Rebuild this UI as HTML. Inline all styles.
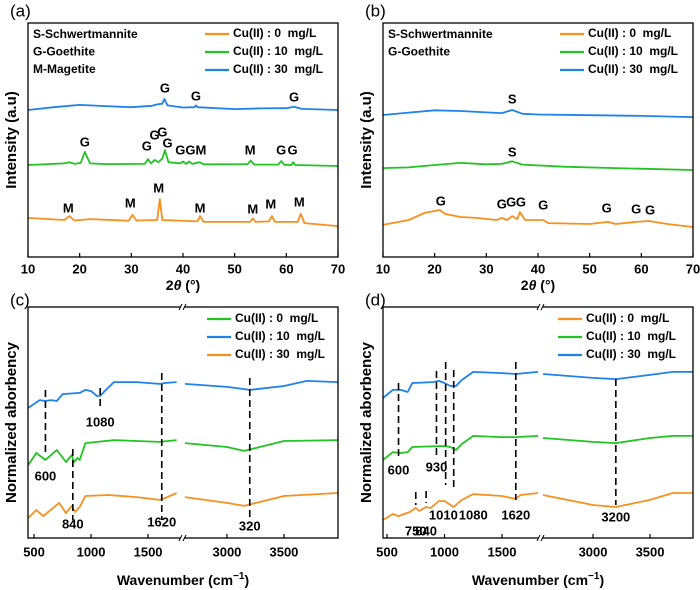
<!DOCTYPE html>
<html><head><meta charset="utf-8"><style>
body{margin:0;background:#fff}
svg{display:block;font-family:"Liberation Sans",Arial,sans-serif}
.pre{white-space:pre}
</style></head><body>
<svg id="c" width="700" height="590" viewBox="0 0 700 590" xmlns="http://www.w3.org/2000/svg"></svg>
<script>
// ---------- DATA ----------
const xrdTicks=[10,20,30,40,50,60,70];
const aOrange=[[10,16.7],[17,15.8],[18,17.5],[19,15.6],[22,16.2],[29.5,15.5],[30.2,18],[31,15.6],[35,15.8],[35.5,24.8],[36,15.8],[42.8,15.2],[43.3,17.5],[44,15],[53,15],[53.5,16.5],[54,15],[56.6,15.2],[57.2,17.5],[57.8,15],[62.2,15],[62.8,18.5],[63.5,14.5],[70,13.2]];
const aGreen=[[10,39.3],[17,40],[18,40.5],[19,39.8],[20.2,40.2],[21,44.9],[22,40],[25,39.7],[32.6,39.8],[33.2,41.8],[33.8,40],[34.5,41.5],[35.2,40.5],[36,42],[36.5,45.7],[37.2,40.5],[39.5,40],[40,40.8],[40.6,39.8],[41.2,40.8],[41.8,39.8],[43.2,40.5],[44,39.6],[52.5,39.7],[53.1,41.2],[53.8,39.5],[58.4,39.5],[59,41],[59.6,39.4],[61,39.3],[61.3,40.5],[61.7,39.3],[70,38.9]];
const aBlue=[[10,62.8],[15,64],[20,65],[25,64.5],[30,64],[34,64.6],[35,65.2],[36,65.5],[36.4,67.5],[37,64.8],[40,63.9],[42.2,64],[42.5,64.8],[42.8,64],[50,63.2],[55,63.5],[60,63.6],[61.5,64.2],[63,63.3],[70,62.8]];
const aLabels=[["G",36.5,71.8],["G",42.5,68.4],["G",61.5,68],["G",21,48.7],["G",33,47],["G",34.5,51.7],["G",36,53],["G",37,48.3],["GGM",41.5,45.3],["M",53,45.3],["G",59,45.3],["G",61.2,45.3],["M",17.8,20.5],["M",29.8,22.6],["M",35.3,29],["M",43.3,20.5],["M",53.5,20],["M",57,22.2],["M",62.5,23]];
const bOrange=[[10,13.7],[15,15.8],[18,18.8],[21,20.1],[22,18.4],[25,17.1],[28,16.7],[32,15.8],[33,16.7],[34,15.8],[35,17.5],[36,16.2],[36.5,19.2],[37.5,15.8],[41,15.8],[42,14.5],[50,14.1],[53.5,15],[55,14.1],[59,15],[61.5,15.4],[65,14.1],[70,12.8]];
const bGreen=[[10,38],[15,38.3],[20,39.3],[25,40.2],[30,39.6],[33,39.8],[35,40.9],[37,39.5],[45,38.6],[55,38],[70,37.2]];
const bBlue=[[10,60.7],[15,61.7],[20,62.7],[25,62.4],[30,61.8],[33,61.5],[35,62.8],[37,61.2],[40,60.9],[50,60.6],[60,60.3],[70,59.8]];
const bLabels=[["S",35,67.1],["S",35,44.4],["G",21.2,23.5],["G",33,22.2],["G",34.8,23.1],["G",36.7,23.1],["G",41,21.8],["G",53.3,20.5],["G",59,20.1],["G",61.7,19.7]];
const ftTicksL=[500,1000,1500];
const ftTicksR=[3000,3500];
const cBlue=[[450,56.3],[550,59.7],[600,59.3],[650,59.7],[700,59.3],[750,62.3],[900,62.8],[950,64.1],[1000,63.6],[1050,61.5],[1080,61.5],[1120,63.6],[1200,67.5],[1400,67.5],[1600,66.7],[1650,67.1],[1750,67.5],[2632,66.7],[3000,65.4],[3200,64.1],[3500,65.8],[3700,68],[3974,67.5]];
const cGreen=[[450,31.6],[520,36.8],[600,33.8],[700,38.1],[780,32.9],[830,35.9],[850,32.9],[880,34.6],[900,33.8],[950,41.1],[1200,42.4],[1600,41.6],[1750,42.4],[2632,41.1],[3000,39.4],[3150,37.7],[3500,42],[3974,42.4]];
const cOrange=[[450,8.7],[520,12.1],[580,9.5],[720,15.2],[780,10.8],[830,13.9],[860,11.3],[900,13.4],[950,18.2],[1150,18.6],[1400,17.7],[1600,16.5],[1650,17.3],[1750,19.5],[2632,17.7],[3000,15.2],[3150,13.9],[3500,18.2],[3974,19.5]];
const cDash=[[600,390,455],[840,449,520],[1080,388,410],[1620,373,520],[3200,378,520]];
const cLabels=[["1080",1080,423],["600",600,477],["840",840,525],["1620",1620,523],["320",3200,527]];
const dBlue=[[465,60.6],[550,64.1],[620,64.1],[680,63.2],[720,67.1],[900,67.5],[950,68],[1000,67.1],[1050,65.8],[1100,65.8],[1150,68.4],[1250,71.9],[1500,71.4],[1620,71],[1813,71.9],[2561,71],[3000,69.3],[3200,68.8],[3500,70.6],[3700,71.9],[3877,71.9]];
const dGreen=[[465,33.8],[550,37.2],[620,36.8],[680,37.2],[720,39.4],[950,39.8],[1000,39.8],[1050,39.4],[1100,38.1],[1150,40.7],[1250,44.2],[1500,43.7],[1620,43.7],[1813,44.2],[2561,43.3],[3000,41.6],[3200,41.1],[3500,43.3],[3700,44.2],[3877,44.2]];
const dOrange=[[465,7.8],[550,10.4],[600,9.5],[700,11.3],[750,13],[780,11.7],[840,13.4],[880,13],[950,16],[1000,16],[1080,13.4],[1150,16.5],[1250,19],[1500,18.2],[1620,16.9],[1660,18.6],[1813,19.5],[2561,18.6],[3000,14.3],[3200,13.4],[3500,16.5],[3700,19.5],[3877,19.5]];
const dDash=[[600,383,460],[930,371,455],[1010,362,485],[1080,370,490],[750,492,505],[840,491,503],[1620,362,500],[3200,379,505]];
const dLabels=[["600",600,471],["930",930,468],["750",750,532],["840",840,532],["1010",990,516],["1080",1250,516],["1620",1620,516],["3200",3200,518]];
const legVals=["0","10","30"];
// ---------- DRAW ----------
const svg=document.getElementById('c');const NS="http://www.w3.org/2000/svg";
const OR="#f7901e",GR="#22c322",BL="#1e82ea";
function mk(t,a,p){const e=document.createElementNS(NS,t);for(const k in a)e.setAttribute(k,a[k]);(p||svg).appendChild(e);return e;}
function txt(s,x,y,o,p){const e=mk('text',Object.assign({x:x,y:y,'font-size':13,'font-weight':'bold','text-anchor':'middle','dominant-baseline':'middle'},o||{}),p);e.textContent=s;return e;}
function panel(P,name){
  const g=mk('g',{});return g;}
function xrd(P,name,series,labels,leftTexts,legColors,letter){
  const g=panel(P,name);
  const X=v=>P.l+(v-10)/60*(P.r-P.l), Y=u=>P.b-u/100*(P.b-P.t);
  series.forEach((s,i)=>{const p=mk('path',{d:'M'+s[0].map(q=>X(q[0]).toFixed(1)+','+Y(q[1]).toFixed(1)).join('L'),fill:'none',stroke:s[1],'stroke-width':1.8,'stroke-linejoin':'round'},g);});
  labels.forEach(l=>{const t=txt(l[0],X(l[1]),Y(l[2]),{},g);});
  const fr=mk('rect',{x:P.l,y:P.t,width:P.r-P.l,height:P.b-P.t,fill:'none',stroke:'#000','stroke-width':1.3},g);
  xrdTicks.forEach(v=>{mk('line',{x1:X(v),x2:X(v),y1:P.b,y2:P.b-4,stroke:'#000','stroke-width':1.2},g);const t=txt(v,X(v),P.b+13,{'font-size':13},g);});
  leftTexts.forEach((s,i)=>{const t=txt(s,P.l+5,P.t+12+i*17.5,{'text-anchor':'start','font-size':12},g);});
  legend(P.r-133,P.t+11,legColors,g);
  const yl=txt('Intensity (a.u)',0,0,{'font-size':15,transform:`translate(${P.l-16},${(P.t+P.b)/2}) rotate(-90)`},g);
  const xl=mk('text',{x:(P.l+P.r)/2,y:P.b+33,'font-size':14,'font-weight':'bold','text-anchor':'middle'},g);xl.innerHTML='2<tspan font-style="italic">θ</tspan> (°)';
  const pl=txt(letter,P.l-18,P.t-11,{'font-weight':'normal','font-size':17,'text-anchor':'start'},g);
}
function legend(x,y,cols,g){cols.forEach((c,i)=>{const lg=mk('g',{},g);mk('line',{x1:x,x2:x+24,y1:y+i*18,y2:y+i*18,stroke:c,'stroke-width':2.2},lg);const t=mk('text',{x:x+28,y:y+i*18,'font-size':12,'font-weight':'bold','dominant-baseline':'middle','class':'pre'},lg);t.textContent='Cu(II) : '+legVals[i]+'  mg/L';});}
function ftir(P,name,series,dashes,labels,legColors,letter){
  const g=panel(P,name);
  const X=v=>v<=P.d1[1]?P.l+(v-P.d1[0])/(P.d1[1]-P.d1[0])*(P.br1-P.l):P.br2+(v-P.d2[0])/(P.d2[1]-P.d2[0])*(P.r-P.br2);
  const Y=u=>P.b-u/100*(P.b-P.t);
  series.forEach(s=>{let d='';let prevRight=false;s[0].forEach((q,i)=>{const right=q[0]>P.d1[1];d+=(i==0||right!==prevRight?'M':'L')+X(q[0]).toFixed(1)+','+Y(q[1]).toFixed(1);prevRight=right;});const p=mk('path',{d:d,fill:'none',stroke:s[1],'stroke-width':1.8,'stroke-linejoin':'round'},g);});
  dashes.forEach(q=>{const l=mk('line',{x1:X(q[0]),x2:X(q[0]),y1:q[1],y2:q[2],stroke:'#000','stroke-width':1.6,'stroke-dasharray':'7,4'},g);});
  labels.forEach(l=>{const t=txt(l[0],X(l[1]),l[2],{},g);});
  const fr=mk('rect',{x:P.l,y:P.t,width:P.r-P.l,height:P.b-P.t,fill:'none',stroke:'#000','stroke-width':1.3},g);
  [P.t,P.b].forEach(yy=>{mk('rect',{x:P.br1+0.5,y:yy-3,width:P.br2-P.br1-1,height:6,fill:'#fff'},g);mk('line',{x1:P.br1-1,y1:yy+3,x2:P.br1+2,y2:yy-3,stroke:'#000','stroke-width':1},g);mk('line',{x1:P.br2-2,y1:yy+3,x2:P.br2+1,y2:yy-3,stroke:'#000','stroke-width':1},g);});
  ftTicksL.concat(ftTicksR).forEach(v=>{mk('line',{x1:X(v),x2:X(v),y1:P.b,y2:P.b-4,stroke:'#000','stroke-width':1.2},g);const t=txt(v,X(v),P.b+15,{'font-size':13},g);});
  legend(P.lx,P.t+12,legColors,g);
  const yl=txt('Normalized aborbency',0,0,{'font-size':15,transform:`translate(${P.l-16},${(P.t+P.b)/2}) rotate(-90)`},g);
  const xl=mk('text',{x:(P.l+P.r)/2,y:P.b+47,'font-size':14,'font-weight':'bold','text-anchor':'middle'},g);xl.innerHTML='Wavenumber (cm<tspan font-size="10" dy="-6">−1</tspan><tspan dy="6">)</tspan>';
  const pl=txt(letter,P.l-18,P.t-6,{'font-weight':'normal','font-size':17,'text-anchor':'start'},g);
}
xrd({l:28,r:338,t:23,b:257},'panel-a',[[aOrange,OR,'series-0mgL'],[aGreen,GR,'series-10mgL'],[aBlue,BL,'series-30mgL']],aLabels,['S-Schwertmannite','G-Goethite','M-Magetite'],[OR,GR,BL],'(a)');
xrd({l:383,r:693,t:23,b:257},'panel-b',[[bOrange,OR,'series-0mgL'],[bGreen,GR,'series-10mgL'],[bBlue,BL,'series-30mgL']],bLabels,['S-Schwertmannite','G-Goethite'],[OR,GR,BL],'(b)');
ftir({l:28,r:338,t:307,b:538,br1:180,br2:185,d1:[447,1780],d2:[2632,3974],lx:207},'panel-c',[[cBlue,BL,'series-10mgL'],[cGreen,GR,'series-0mgL'],[cOrange,OR,'series-30mgL']],cDash,cLabels,[GR,BL,OR],'(c)');
ftir({l:383,r:693,t:307,b:538,br1:538,br2:543,d1:[465,1813],d2:[2561,3877],lx:558},'panel-d',[[dBlue,BL,'series-30mgL'],[dGreen,GR,'series-10mgL'],[dOrange,OR,'series-0mgL']],dDash,dLabels,[OR,GR,BL],'(d)');
</script>
</body></html>
